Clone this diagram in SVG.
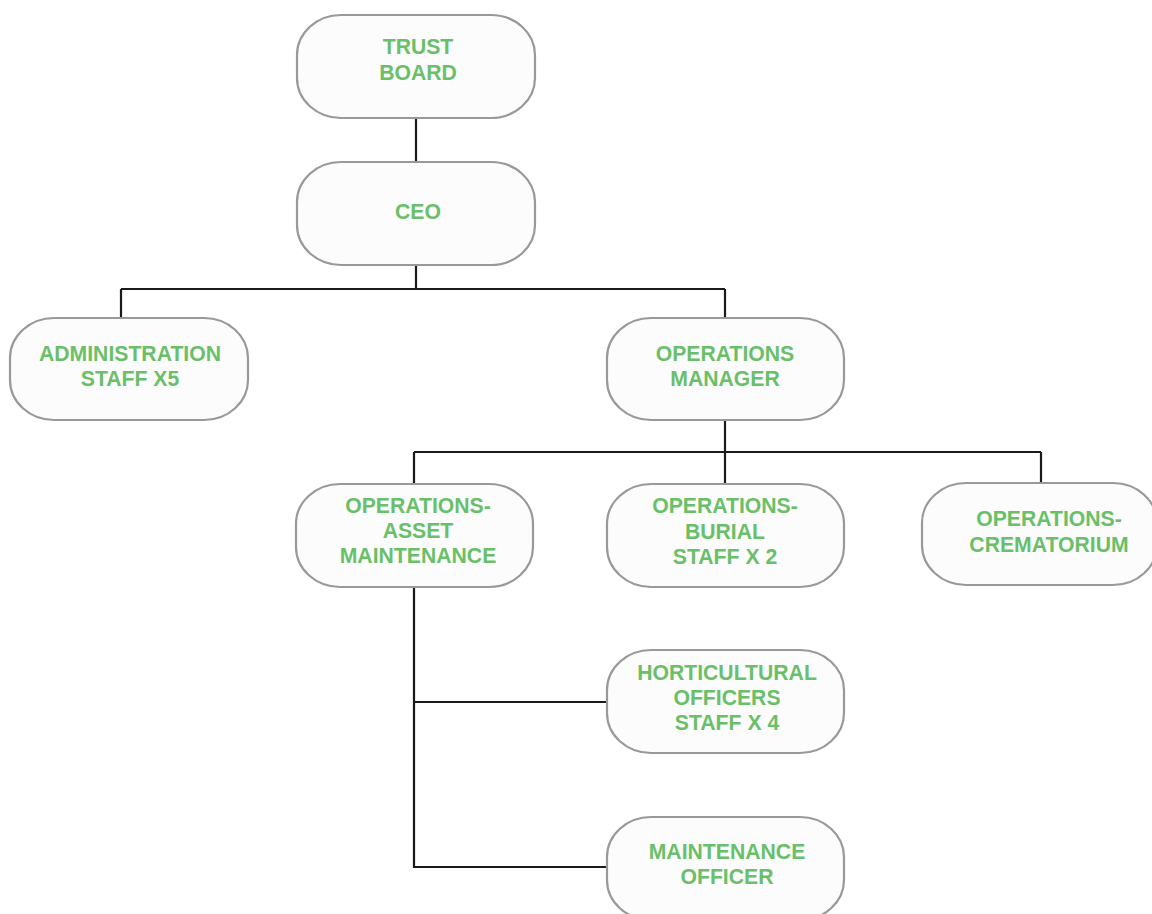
<svg xmlns="http://www.w3.org/2000/svg" width="1152" height="914" viewBox="0 0 1152 914">
<style>
.n{fill:#fcfcfc;stroke:#999;stroke-width:2.2}
.t{font-family:"Liberation Sans",Arial,sans-serif;font-weight:bold;font-size:21.2px;fill:#6abf69;text-anchor:middle}
.c{fill:none;stroke:#1a1a1a;stroke-width:2.2}
</style>
<rect width="1152" height="914" fill="#fff"/>
<g id="connectors">
<path class="c" d="M416 118V162"/>
<path class="c" d="M416 265V289M121 289H725M121 289V318M725 289V318"/>
<path class="c" d="M725 420V452M414 452H1041M414 452V484M725 452V484M1041 452V483"/>
<path class="c" d="M414 587V867H607M414 702H607"/>
</g>
<g id="trust-board"><rect class="n" x="297" y="15" width="238" height="103" rx="44" ry="40"/><text class="t" x="418" y="54">TRUST</text><text class="t" x="418" y="80">BOARD</text></g>
<g id="ceo"><rect class="n" x="297" y="162" width="238" height="103" rx="44" ry="40"/><text class="t" x="418" y="219">CEO</text></g>
<g id="admin"><rect class="n" x="10" y="318" width="238" height="102" rx="44" ry="40"/><text class="t" x="130" y="361">ADMINISTRATION</text><text class="t" x="130" y="386">STAFF X5</text></g>
<g id="ops-manager"><rect class="n" x="607" y="318" width="237" height="102" rx="44" ry="40"/><text class="t" x="725" y="361">OPERATIONS</text><text class="t" x="725" y="386">MANAGER</text></g>
<g id="ops-asset"><rect class="n" x="296" y="484" width="237" height="103" rx="44" ry="40"/><text class="t" x="418" y="513">OPERATIONS-</text><text class="t" x="418" y="538">ASSET</text><text class="t" x="418" y="563">MAINTENANCE</text></g>
<g id="ops-burial"><rect class="n" x="607" y="484" width="237" height="103" rx="44" ry="40"/><text class="t" x="725" y="513">OPERATIONS-</text><text class="t" x="725" y="539">BURIAL</text><text class="t" x="725" y="564">STAFF X 2</text></g>
<g id="ops-crematorium"><rect class="n" x="922" y="483" width="235" height="102" rx="44" ry="40"/><text class="t" x="1049" y="526">OPERATIONS-</text><text class="t" x="1049" y="552">CREMATORIUM</text></g>
<g id="horticultural"><rect class="n" x="607" y="650" width="237" height="103" rx="44" ry="40"/><text class="t" x="727" y="680">HORTICULTURAL</text><text class="t" x="727" y="705">OFFICERS</text><text class="t" x="727" y="730">STAFF X 4</text></g>
<g id="maintenance-officer"><rect class="n" x="607" y="817" width="237" height="103" rx="44" ry="40"/><text class="t" x="727" y="859">MAINTENANCE</text><text class="t" x="727" y="884">OFFICER</text></g>
</svg>
